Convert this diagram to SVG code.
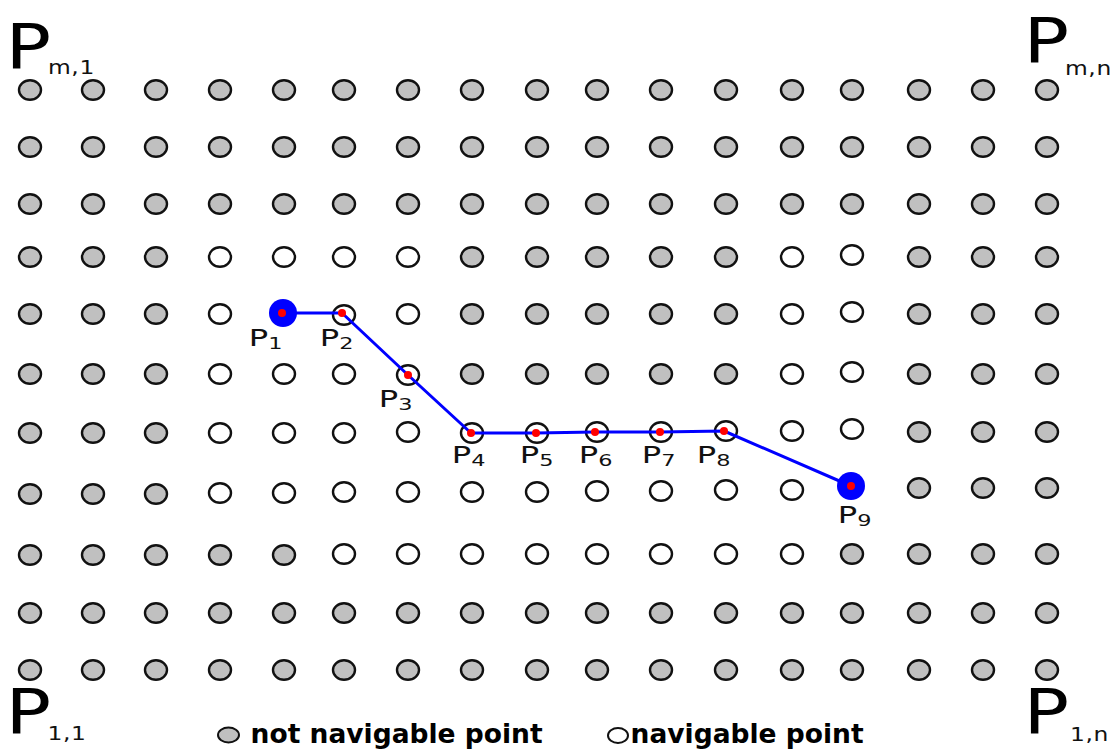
<svg xmlns="http://www.w3.org/2000/svg" width="1114" height="749" viewBox="0 0 1114 749">
<style>
.nn{fill:#c0c0c0;stroke:#111;stroke-width:2.4}
.nv{fill:#fff;stroke:#111;stroke-width:2.4}
.blue{fill:#0000ff}
.red{fill:#ff0000}
.lbl{font-family:"DejaVu Sans",sans-serif;font-size:23px;fill:#111}
.sub{font-size:16px}
.big{font-family:"DejaVu Sans",sans-serif;font-size:63px;fill:#000}
.csub{font-family:"DejaVu Sans",sans-serif;font-size:19.5px;fill:#111;letter-spacing:0.5px}
.leg{font-family:"DejaVu Sans",sans-serif;font-weight:bold;font-size:26.5px;fill:#000}
.path{fill:none;stroke:#0000ff;stroke-width:3;stroke-linejoin:round}
</style>
<defs>
<ellipse id="g" class="nn" rx="11" ry="9.8"/>
<ellipse id="w" class="nv" rx="11" ry="9.8"/>
</defs>
<rect width="1114" height="749" fill="#fff"/>
<g id="grid">
<g id="r11"><use href="#g" x="30" y="90"/><use href="#g" x="93" y="90"/><use href="#g" x="156" y="90"/><use href="#g" x="220" y="90"/><use href="#g" x="284" y="90"/><use href="#g" x="344" y="90"/><use href="#g" x="408" y="90"/><use href="#g" x="472" y="90"/><use href="#g" x="537" y="90"/><use href="#g" x="597" y="90"/><use href="#g" x="661" y="90"/><use href="#g" x="726" y="90"/><use href="#g" x="792" y="90"/><use href="#g" x="852" y="90"/><use href="#g" x="919" y="90"/><use href="#g" x="983" y="90"/><use href="#g" x="1047" y="90"/></g>
<g id="r10"><use href="#g" x="30" y="147"/><use href="#g" x="93" y="147"/><use href="#g" x="156" y="147"/><use href="#g" x="220" y="147"/><use href="#g" x="284" y="147"/><use href="#g" x="344" y="147"/><use href="#g" x="408" y="147"/><use href="#g" x="472" y="147"/><use href="#g" x="537" y="147"/><use href="#g" x="597" y="147"/><use href="#g" x="661" y="147"/><use href="#g" x="726" y="147"/><use href="#g" x="792" y="147"/><use href="#g" x="852" y="147"/><use href="#g" x="919" y="147"/><use href="#g" x="983" y="147"/><use href="#g" x="1047" y="147"/></g>
<g id="r9"><use href="#g" x="30" y="204"/><use href="#g" x="93" y="204"/><use href="#g" x="156" y="204"/><use href="#g" x="220" y="204"/><use href="#g" x="284" y="204"/><use href="#g" x="344" y="204"/><use href="#g" x="408" y="204"/><use href="#g" x="472" y="204"/><use href="#g" x="537" y="204"/><use href="#g" x="597" y="204"/><use href="#g" x="661" y="204"/><use href="#g" x="726" y="204"/><use href="#g" x="792" y="204"/><use href="#g" x="852" y="204"/><use href="#g" x="919" y="204"/><use href="#g" x="983" y="204"/><use href="#g" x="1047" y="204"/></g>
<g id="r8"><use href="#g" x="30" y="257"/><use href="#g" x="93" y="257"/><use href="#g" x="156" y="257"/><use href="#w" x="220" y="257"/><use href="#w" x="284" y="257"/><use href="#w" x="344" y="257"/><use href="#w" x="408" y="257"/><use href="#g" x="472" y="257"/><use href="#g" x="537" y="257"/><use href="#g" x="597" y="257"/><use href="#g" x="661" y="257"/><use href="#g" x="726" y="257"/><use href="#w" x="792" y="257"/><use href="#w" x="852" y="255"/><use href="#g" x="919" y="257"/><use href="#g" x="983" y="257"/><use href="#g" x="1047" y="257"/></g>
<g id="r7"><use href="#g" x="30" y="314"/><use href="#g" x="93" y="314"/><use href="#g" x="156" y="314"/><use href="#w" x="220" y="314"/><use href="#w" x="344" y="315"/><use href="#w" x="408" y="314"/><use href="#g" x="472" y="314"/><use href="#g" x="537" y="314"/><use href="#g" x="597" y="314"/><use href="#g" x="661" y="314"/><use href="#g" x="726" y="314"/><use href="#w" x="792" y="314"/><use href="#w" x="852" y="312"/><use href="#g" x="919" y="314"/><use href="#g" x="983" y="314"/><use href="#g" x="1047" y="314"/></g>
<g id="r6"><use href="#g" x="30" y="374"/><use href="#g" x="93" y="374"/><use href="#g" x="156" y="374"/><use href="#w" x="220" y="374"/><use href="#w" x="284" y="374"/><use href="#w" x="344" y="374"/><use href="#w" x="408" y="375"/><use href="#g" x="472" y="374"/><use href="#g" x="537" y="374"/><use href="#g" x="597" y="374"/><use href="#g" x="661" y="374"/><use href="#g" x="726" y="374"/><use href="#w" x="792" y="374"/><use href="#w" x="852" y="372"/><use href="#g" x="919" y="374"/><use href="#g" x="983" y="374"/><use href="#g" x="1047" y="374"/></g>
<g id="r5"><use href="#g" x="30" y="433"/><use href="#g" x="93" y="433"/><use href="#g" x="156" y="433"/><use href="#w" x="220" y="433"/><use href="#w" x="284" y="433"/><use href="#w" x="344" y="433"/><use href="#w" x="408" y="432"/><use href="#w" x="472" y="433"/><use href="#w" x="537" y="433"/><use href="#w" x="597" y="432"/><use href="#w" x="661" y="432"/><use href="#w" x="726" y="431"/><use href="#w" x="792" y="431"/><use href="#w" x="852" y="429"/><use href="#g" x="919" y="432"/><use href="#g" x="983" y="432"/><use href="#g" x="1047" y="432"/></g>
<g id="r4"><use href="#g" x="30" y="494"/><use href="#g" x="93" y="494"/><use href="#g" x="156" y="494"/><use href="#w" x="220" y="493"/><use href="#w" x="284" y="493"/><use href="#w" x="344" y="492"/><use href="#w" x="408" y="492"/><use href="#w" x="472" y="492"/><use href="#w" x="537" y="492"/><use href="#w" x="597" y="491"/><use href="#w" x="661" y="491"/><use href="#w" x="726" y="490"/><use href="#w" x="792" y="490"/><use href="#g" x="919" y="488"/><use href="#g" x="983" y="488"/><use href="#g" x="1047" y="488"/></g>
<g id="r3"><use href="#g" x="30" y="555"/><use href="#g" x="93" y="555"/><use href="#g" x="156" y="555"/><use href="#g" x="220" y="555"/><use href="#g" x="284" y="555"/><use href="#w" x="344" y="554"/><use href="#w" x="408" y="554"/><use href="#w" x="472" y="554"/><use href="#w" x="537" y="554"/><use href="#w" x="597" y="554"/><use href="#w" x="661" y="554"/><use href="#w" x="726" y="554"/><use href="#w" x="792" y="554"/><use href="#g" x="852" y="554"/><use href="#g" x="919" y="554"/><use href="#g" x="983" y="554"/><use href="#g" x="1047" y="554"/></g>
<g id="r2"><use href="#g" x="30" y="613"/><use href="#g" x="93" y="613"/><use href="#g" x="156" y="613"/><use href="#g" x="220" y="613"/><use href="#g" x="284" y="613"/><use href="#g" x="344" y="613"/><use href="#g" x="408" y="613"/><use href="#g" x="472" y="613"/><use href="#g" x="537" y="613"/><use href="#g" x="597" y="613"/><use href="#g" x="661" y="613"/><use href="#g" x="726" y="613"/><use href="#g" x="792" y="613"/><use href="#g" x="852" y="613"/><use href="#g" x="919" y="613"/><use href="#g" x="983" y="613"/><use href="#g" x="1047" y="613"/></g>
<g id="r1"><use href="#g" x="30" y="670"/><use href="#g" x="93" y="670"/><use href="#g" x="156" y="670"/><use href="#g" x="220" y="670"/><use href="#g" x="284" y="670"/><use href="#g" x="344" y="670"/><use href="#g" x="408" y="670"/><use href="#g" x="472" y="670"/><use href="#g" x="537" y="670"/><use href="#g" x="597" y="670"/><use href="#g" x="661" y="670"/><use href="#g" x="726" y="670"/><use href="#g" x="792" y="670"/><use href="#g" x="852" y="670"/><use href="#g" x="919" y="670"/><use href="#g" x="983" y="670"/><use href="#g" x="1047" y="670"/></g>
</g>
<g id="connectors">
<polyline class="path" points="282,313 342,313 408,375 471,433 536,433 595,432 660,432 724,431 851,486"/>
</g>
<g id="P1"><circle class="blue" cx="283" cy="313" r="14"/><circle class="red" cx="282" cy="313" r="4"/><text class="lbl" transform="matrix(1.4 0 0 1 248.8 346)">P<tspan class="sub" dy="3">1</tspan></text></g>
<g id="P2"><circle class="red" cx="342" cy="313" r="4"/><text class="lbl" transform="matrix(1.4 0 0 1 319.8 346)">P<tspan class="sub" dy="3">2</tspan></text></g>
<g id="P3"><circle class="red" cx="408" cy="375" r="4"/><text class="lbl" transform="matrix(1.4 0 0 1 378.8 407)">P<tspan class="sub" dy="3">3</tspan></text></g>
<g id="P4"><circle class="red" cx="471" cy="433" r="4"/><text class="lbl" transform="matrix(1.4 0 0 1 451.8 463)">P<tspan class="sub" dy="3">4</tspan></text></g>
<g id="P5"><circle class="red" cx="536" cy="433" r="4"/><text class="lbl" transform="matrix(1.4 0 0 1 519.8 463)">P<tspan class="sub" dy="3">5</tspan></text></g>
<g id="P6"><circle class="red" cx="595" cy="432" r="4"/><text class="lbl" transform="matrix(1.4 0 0 1 578.8 463)">P<tspan class="sub" dy="3">6</tspan></text></g>
<g id="P7"><circle class="red" cx="660" cy="432" r="4"/><text class="lbl" transform="matrix(1.4 0 0 1 641.8 463)">P<tspan class="sub" dy="3">7</tspan></text></g>
<g id="P8"><circle class="red" cx="724" cy="431" r="4"/><text class="lbl" transform="matrix(1.4 0 0 1 696.8 463)">P<tspan class="sub" dy="3">8</tspan></text></g>
<g id="P9"><circle class="blue" cx="851" cy="486" r="14"/><circle class="red" cx="851" cy="486" r="4"/><text class="lbl" transform="matrix(1.4 0 0 1 837.8 523)">P<tspan class="sub" dy="3">9</tspan></text></g>
<g id="corners">
<text class="big" transform="matrix(1.2 0 0 1 5.6 68)">P</text>
<text class="csub" transform="matrix(1.2 0 0 1 48 74)">m,1</text>
<text class="big" transform="matrix(1.2 0 0 1 1023.6 62)">P</text>
<text class="csub" transform="matrix(1.2 0 0 1 1065 75)">m,n</text>
<text class="big" transform="matrix(1.2 0 0 1 5.6 733)">P</text>
<text class="csub" transform="matrix(1.2 0 0 1 47.5 740)">1,1</text>
<text class="big" transform="matrix(1.2 0 0 1 1023.6 733)">P</text>
<text class="csub" transform="matrix(1.2 0 0 1 1070 741)">1,n</text>
</g>
<g id="legend">
<ellipse class="nn" cx="228.5" cy="735" rx="10.5" ry="7.5" style="stroke-width:2"/>
<text class="leg" x="250.6" y="743">not navigable point</text>
<ellipse class="nv" cx="618" cy="735.5" rx="10" ry="7.5" style="stroke-width:2"/>
<text class="leg" x="630.6" y="743">navigable point</text>
</g>
</svg>
